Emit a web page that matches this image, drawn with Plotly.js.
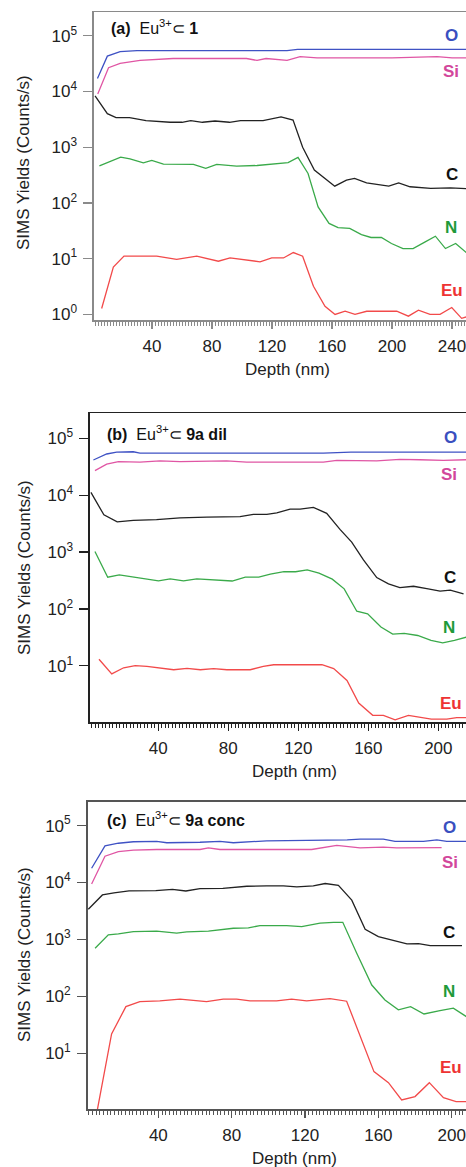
<!DOCTYPE html>
<html>
<head>
<meta charset="utf-8">
<script src="https://cdn.plot.ly/plotly-3.0.1.min.js"></script>
<style>html,body{margin:0;padding:0;background:#fff;}#chart{width:466px;height:1167px;}</style>
</head>
<body>
<div id="chart"></div>
<script>
// ---------------- DATA ----------------
// Panel (a) Eu3+ ⊂ 1
const aO_x  = [3.6, 10.2, 18.7, 30, 60, 100, 130, 137, 160, 200, 250];
const aO_y  = [1.7e4, 4.3e4, 5.2e4, 5.4e4, 5.4e4, 5.4e4, 5.4e4, 5.7e4, 5.7e4, 5.7e4, 5.7e4];
const aSi_x = [3.8, 11, 18.7, 32, 54, 103, 110, 116, 130, 138.7, 150, 200, 230, 240, 250];
const aSi_y = [9.0e3, 2.67e4, 3.2e4, 3.6e4, 3.9e4, 3.9e4, 3.6e4, 3.9e4, 3.6e4, 4.2e4, 4.0e4, 4.0e4, 4.2e4, 4.0e4, 4.0e4];
const aC_x  = [2, 10.2, 16, 25, 36, 52, 60, 65.8, 73.6, 82, 91.6, 99, 114, 126, 134, 140.4, 148.2, 155, 161.8, 169.6, 175, 183, 197.8, 204.4, 212, 225.8, 238.9, 250];
const aC_y  = [8300, 4000, 3400, 3400, 3000, 2800, 2800, 3000, 2800, 2950, 2800, 3000, 3000, 3500, 3060, 1000, 388, 275, 200, 257, 275, 229, 200, 229, 195, 182, 187, 180];
const aN_x  = [4.9, 12, 19.1, 25.3, 34.2, 39.8, 47.6, 67.6, 75.8, 83.1, 96.4, 110, 124, 130.7, 137.3, 144, 150.7, 158, 164, 171.8, 179.6, 186, 192.9, 199.6, 207.3, 214, 221.8, 228.9, 235.6, 242.4, 249.5];
const aN_y  = [463, 563, 664, 620, 525, 580, 498, 490, 416, 490, 458, 470, 500, 530, 655, 338, 85, 43, 36, 35, 27, 24, 24, 18.7, 15.2, 15.2, 19.8, 25.3, 15.2, 18.7, 12.9];
const aEu_x = [6.4, 14.2, 21.3, 43.1, 56.4, 69.8, 84.2, 92, 112, 119.8, 127.6, 134.2, 140.4, 147.6, 155.3, 162, 168.7, 175.3, 183.1, 203.1, 210.9, 217.6, 225.3, 232, 239.8, 246.4, 252];
const aEu_y = [1.28, 7.1, 11.1, 11.1, 9.7, 11.1, 9.0, 10.3, 8.8, 10.3, 10.3, 12.9, 11.1, 3.2, 1.4, 1.0, 1.14, 1.0, 1.14, 1.14, 0.93, 1.19, 1.0, 1.0, 1.33, 0.85, 0.95];

// Panel (b) Eu3+ ⊂ 9a dil
const bO_x  = [2.9, 10.5, 16.2, 25.7, 29.5, 80, 134.3, 150, 216];
const bO_y  = [4.16e4, 5.3e4, 5.7e4, 5.8e4, 5.5e4, 5.5e4, 5.5e4, 5.7e4, 5.7e4];
const bSi_x = [3.8, 10.5, 17.2, 29.5, 41, 52.4, 79, 90.5, 134.3, 142, 164.8, 178, 189.5, 202.9, 216];
const bSi_y = [2.7e4, 3.5e4, 3.9e4, 3.8e4, 4.0e4, 3.9e4, 4.0e4, 3.8e4, 3.8e4, 4.1e4, 4.0e4, 4.27e4, 4.2e4, 4.1e4, 4.2e4];
const bC_x  = [1.5, 8.9, 16.5, 25.7, 39, 52.4, 67.6, 86.7, 94.3, 102, 107.7, 115.3, 121, 128.6, 136.2, 143.8, 150.5, 157.2, 164.8, 171.5, 178, 185.8, 193.4, 201, 206.8, 214.4];
const bC_y  = [11200, 4500, 3400, 3600, 3700, 4000, 4100, 4200, 4600, 4600, 4900, 5700, 5700, 6100, 4800, 2500, 1490, 726, 355, 275, 237, 250, 227, 205, 214, 184];
const bN_x  = [3.8, 11.1, 17.7, 25.7, 40.1, 46.8, 54.4, 62, 73.6, 82.2, 89.7, 97.4, 104, 111.8, 118.4, 125.1, 131.8, 139.4, 146.2, 153.4, 159.6, 167.2, 173.9, 180.5, 188.2, 195.8, 202.5, 209.2, 216.4];
const bN_y  = [1020, 361, 396, 361, 310, 337, 310, 337, 324, 309, 361, 361, 407, 453, 450, 485, 424, 333, 225, 91, 82, 48, 36, 37, 34, 27.8, 25.3, 27.8, 32];
const bEu_x = [6.1, 13.4, 20.2, 26.8, 33.5, 48.8, 56.4, 64, 71.6, 79.2, 92.5, 100, 105.9, 133.5, 140.2, 147.8, 154.5, 162.5, 168.6, 175.3, 182.9, 191.4, 196, 204.8, 210.5, 216];
const bEu_y = [13, 7.2, 9.2, 10, 9.7, 8.5, 9.0, 8.5, 8.9, 8.5, 8.5, 9.7, 10.4, 10.4, 8.9, 5.5, 2.2, 1.34, 1.34, 1.12, 1.34, 1.2, 1.15, 1.15, 1.22, 1.22];

// Panel (c) Eu3+ ⊂ 9a conc
const cO_x  = [3.6, 10.9, 18.2, 26.4, 39.1, 44.6, 62.7, 73.6, 80.9, 90, 99.1, 143, 150, 162.7, 169.1, 184.6, 191.9, 197.3, 208];
const cO_y  = [1.78e4, 4.4e4, 4.9e4, 5.2e4, 5.3e4, 5.0e4, 5.1e4, 5.3e4, 5.0e4, 5.2e4, 5.4e4, 5.6e4, 5.8e4, 5.8e4, 5.3e4, 5.3e4, 5.6e4, 5.3e4, 5.3e4];
const cSi_x = [3.6, 10.9, 18.2, 26.4, 39.1, 50, 62.7, 67.3, 73.6, 91.8, 123.6, 137.3, 143, 150, 162.7, 170, 194.5];
const cSi_y = [9.4e3, 2.9e4, 3.5e4, 3.7e4, 3.8e4, 3.8e4, 3.8e4, 4.05e4, 3.8e4, 3.8e4, 3.8e4, 4.5e4, 4.3e4, 4.05e4, 4.2e4, 4.05e4, 4.1e4];
const cC_x  = [1.8, 9.5, 15.8, 24, 38.6, 47.7, 55, 62.7, 75.2, 88.3, 99.1, 108.2, 115.5, 124.5, 131, 138.2, 145.5, 152.8, 160, 167.4, 175.6, 181.9, 188.3, 195.6, 205.6];
const cC_y  = [3400, 6050, 6600, 7100, 7200, 7600, 7100, 7800, 7900, 8600, 8700, 8700, 8400, 8700, 9600, 8900, 4900, 1510, 1120, 980, 834, 840, 778, 778, 778];
const cN_x  = [5.5, 12.7, 18.2, 26.4, 39.1, 50, 55.5, 67.3, 80.9, 89.1, 95.4, 110, 118.2, 128.2, 135.5, 140.6, 148.2, 156.4, 163.6, 170.9, 177.6, 184.9, 193.6, 200.9, 208];
const cN_y  = [700, 1200, 1250, 1370, 1400, 1290, 1360, 1400, 1570, 1600, 1750, 1750, 1680, 1930, 2000, 2000, 571, 158, 86, 58, 66, 49, 56, 62, 44];
const cEu_x = [6.7, 14.5, 22.3, 29.9, 40.8, 51.8, 66.3, 75.4, 82.7, 90, 104.5, 112.7, 120.9, 133.6, 142.7, 150, 157.6, 165.5, 172.7, 180, 187.8, 195.5, 202.4, 208];
const cEu_y = [1.0, 21.8, 66, 81, 83, 89, 81, 89, 89, 83, 83, 89, 83, 91, 82, 19.6, 4.75, 3.04, 1.51, 1.73, 3.04, 1.66, 1.41, 1.41];

const speciesNames = ['O', 'Si', 'C', 'N', 'Eu'];
const panelLabels = [
  '<b>(a)</b>\u00a0\u00a0Eu<sup>3+</sup>\u2282\u00a0<b>1</b>',
  '<b>(b)</b>\u00a0\u00a0Eu<sup>3+</sup>\u2282\u00a0<b>9a dil</b>',
  '<b>(c)</b>\u00a0\u00a0Eu<sup>3+</sup>\u2282\u00a0<b>9a conc</b>'
];
const yTickVals = [1, 10, 100, 1000, 10000, 100000];
const yTickText = ['10<sup>0</sup>', '10<sup>1</sup>', '10<sup>2</sup>', '10<sup>3</sup>', '10<sup>4</sup>', '10<sup>5</sup>'];
const xTitle = 'Depth (nm)';
const yTitle = 'SIMS Yields (Counts/s)';

// ---------------- STYLE ----------------
const W = 466, H = 1167;
const FONT = 'Liberation Sans, Arial, Helvetica, sans-serif';
const lineColors  = {O: '#3f52c4', Si: '#e056a4', C: '#222222', N: '#3aaa4a', Eu: '#f24a4a'};
const labelColors = {O: '#3a4fbf', Si: '#d2479b', C: '#111111', N: '#1f9a3a', Eu: '#ee3333'};

const panels = [
  {xs: {O: aO_x, Si: aSi_x, C: aC_x, N: aN_x, Eu: aEu_x}, ys: {O: aO_y, Si: aSi_y, C: aC_y, N: aN_y, Eu: aEu_y},
   left: 94, top: 12.3, bottom: 320, xr: [1.3, 249.3], yr: [-0.1, 5.42], frame: '#8a8a8a',
   labels: {O: [451.7, 36], Si: [451, 71], C: [452, 175], N: [451, 227], Eu: [452, 290]},
   tag: [109, 26.7], ytitleY: 163, xtitle: [287, 369.7]},
  {xs: {O: bO_x, Si: bSi_x, C: bC_x, N: bN_x, Eu: bEu_x}, ys: {O: bO_y, Si: bSi_y, C: bC_y, N: bN_y, Eu: bEu_y},
   left: 90, top: 413.3, bottom: 722, xr: [0.97, 215.8], yr: [0.01, 5.44], frame: '#222222',
   labels: {O: [450, 437.3], Si: [449, 474.3], C: [450, 577], N: [449, 627], Eu: [451, 703]},
   tag: [105, 433.3], ytitleY: 568, xtitle: [294, 771.7]},
  {xs: {O: cO_x, Si: cSi_x, C: cC_x, N: cN_x, Eu: cEu_x}, ys: {O: cO_y, Si: cSi_y, C: cC_y, N: cN_y, Eu: cEu_y},
   left: 87.7, top: 801.7, bottom: 1109, xr: [1.47, 207.8], yr: [0.02, 5.42], frame: '#555555',
   labels: {O: [449, 827], Si: [450, 862.7], C: [449, 932.7], N: [449, 991], Eu: [451, 1067.3]},
   tag: [105, 819.3], ytitleY: 955, xtitle: [294, 1158]}
];

const px = v => v / W;
const py = v => 1 - v / H;

const traces = [];
const layout = {
  width: W, height: H,
  margin: {l: 0, r: 0, t: 0, b: 0},
  paper_bgcolor: '#ffffff', plot_bgcolor: '#ffffff',
  showlegend: false,
  font: {family: FONT, size: 17, color: '#222'},
  annotations: []
};

panels.forEach((p, i) => {
  const n = i === 0 ? '' : String(i + 1);
  speciesNames.forEach(s => {
    traces.push({
      type: 'scatter', mode: 'lines',
      x: p.xs[s], y: p.ys[s],
      xaxis: 'x' + n, yaxis: 'y' + n,
      line: {color: lineColors[s], width: 1.3},
      cliponaxis: true, hoverinfo: 'skip'
    });
    layout.annotations.push({
      xref: 'paper', yref: 'paper', x: px(p.labels[s][0]), y: py(p.labels[s][1]),
      xanchor: 'center', yanchor: 'middle', showarrow: false,
      text: '<b>' + s + '</b>', font: {family: FONT, size: 17, color: labelColors[s]}
    });
  });
  layout['xaxis' + n] = {
    domain: [px(p.left), 1], anchor: 'y' + n, range: p.xr,
    showline: true, linecolor: p.frame, linewidth: 1.6, mirror: true,
    ticks: 'outside', ticklen: 7, tickwidth: 1.3, tickcolor: p.frame,
    tick0: 0, dtick: 40, showgrid: false, zeroline: false,
    minor: {ticks: 'outside', dtick: 2, tick0: 0, ticklen: 4, tickwidth: 1, tickcolor: p.frame, showgrid: false},
    tickfont: {family: FONT, size: 17, color: '#222'}, ticklabelstandoff: 3,
    ticklabeloverflow: 'allow',
    fixedrange: true
  };
  layout['yaxis' + n] = {
    domain: [py(p.bottom), py(p.top)], anchor: 'x' + n, type: 'log', range: p.yr,
    showline: true, linecolor: p.frame, linewidth: 1.6, mirror: false,
    ticks: 'outside', ticklen: 9, tickwidth: 1.3, tickcolor: p.frame,
    tickmode: 'array', tickvals: yTickVals, ticktext: yTickText,
    showgrid: false, zeroline: false,
    tickfont: {family: FONT, size: 17, color: '#222'}, ticklabelstandoff: 3,
    ticklabeloverflow: 'allow',
    fixedrange: true
  };
  layout.annotations.push({
    xref: 'paper', yref: 'paper', x: px(p.tag[0]), y: py(p.tag[1]),
    xanchor: 'left', yanchor: 'middle', showarrow: false,
    text: panelLabels[i], font: {family: FONT, size: 16, color: '#111'}
  });
  layout.annotations.push({
    xref: 'paper', yref: 'paper', x: px(24), y: py(p.ytitleY),
    xanchor: 'center', yanchor: 'middle', showarrow: false, textangle: -90,
    text: yTitle, font: {family: FONT, size: 17, color: '#222'}
  });
  layout.annotations.push({
    xref: 'paper', yref: 'paper', x: px(p.xtitle[0]), y: py(p.xtitle[1]),
    xanchor: 'center', yanchor: 'middle', showarrow: false,
    text: xTitle, font: {family: FONT, size: 17, color: '#222'}
  });
});

Plotly.newPlot('chart', traces, layout, {staticPlot: true, displayModeBar: false});
</script>
</body>
</html>
